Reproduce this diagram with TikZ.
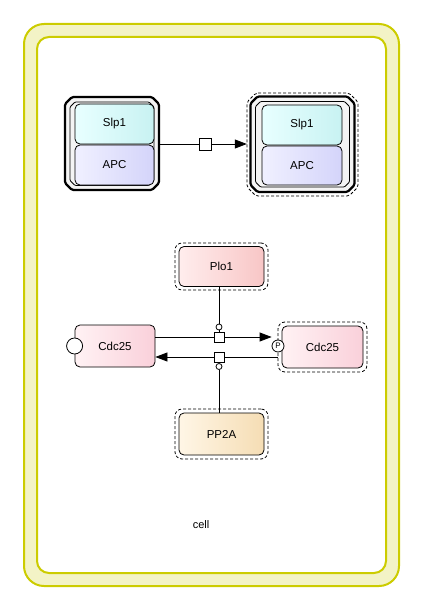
\documentclass[tikz,border=0pt]{standalone}
\usepackage{fontspec}
\setmainfont{Liberation Sans}
\usetikzlibrary{arrows.meta}

\definecolor{cellline}{HTML}{CCCC00}
\definecolor{cellband}{HTML}{F3F3C6}
\definecolor{cyanA}{HTML}{E8FFFF}
\definecolor{cyanB}{HTML}{C8F2F2}
\definecolor{lavA}{HTML}{F0F0FF}
\definecolor{lavB}{HTML}{D4D4FA}
\definecolor{pinkA}{HTML}{FFF2F4}
\definecolor{pinkB}{HTML}{FAD0DA}
\definecolor{roseA}{HTML}{FFEDED}
\definecolor{roseB}{HTML}{F8C6C6}
\definecolor{sandA}{HTML}{FFF6E6}
\definecolor{sandB}{HTML}{F5DDB4}
\definecolor{cplxfill}{HTML}{F4F4F4}

% octagon with cut corners: left, top, right, bottom, cut size
\newcommand\cutbox[5]{%
  ({#1+#5},#2) -- ({#3-#5},#2) -- (#3,{#2+#5}) -- (#3,{#4-#5}) --
  ({#3-#5},#4) -- ({#1+#5},#4) -- (#1,{#4-#5}) -- (#1,{#2+#5}) -- cycle}

\tikzset{
  entity/.style={draw=black, line width=0.8pt, rounded corners=5pt,
    inner sep=0pt, font=\fontsize{11.5}{13}\selectfont},
  clonebox/.style={draw=black, dashed, dash pattern=on 3pt off 2pt,
    line width=0.8pt, rounded corners=7pt, inner sep=0pt},
  cplxouter/.style={draw=black, line width=2.2pt, fill=cplxfill,
    rounded corners=1.5pt, line join=round},
  cplxinner/.style={draw=black, line width=0.8pt, rounded corners=1pt},
  cplxclone/.style={draw=black, dashed, dash pattern=on 3pt off 2pt,
    line width=0.8pt, rounded corners=2pt},
  anchorbox/.style={draw=none, inner sep=0pt},
  procbox/.style={draw=black, fill=white, line width=0.8pt,
    minimum size=10pt, inner sep=0pt},
  catdot/.style={circle, draw=black, fill=white, line width=0.8pt,
    minimum size=6pt, inner sep=0pt},
  conn/.style={draw=black, line width=0.8pt},
  prodtip/.style={-{Triangle[length=12pt,width=9pt]}},
  site/.style={circle, draw=black, fill=white, line width=0.8pt,
    inner sep=0pt, font=\fontsize{8}{9}\selectfont}
}

\begin{document}
\begin{tikzpicture}[x=1pt,y=-1pt]
\useasboundingbox (0,0) rectangle (432,599);

% compartment "cell"
\filldraw[fill=cellband, draw=cellline, line width=2pt, rounded corners=20pt]
  (24,24) rectangle (399,586);
\filldraw[fill=white, draw=cellline, line width=2pt, rounded corners=12pt]
  (37,37) rectangle (386,573);
\node[font=\fontsize{11}{12}\selectfont] (cellname) at (201,525) {cell};

% complex Slp1:APC (left)
\path[cplxouter] \cutbox{65}{97}{159}{190}{7};
\path[cplxinner] \cutbox{70}{102}{154}{185.5}{5};
\node[anchorbox, minimum width=94pt, minimum height=93pt] (cx1) at (112,143.5) {};
\node[entity, left color=cyanA, right color=cyanB, minimum width=79pt,
  minimum height=40pt] (slpA) at (114.5,124) {Slp1};
\node[entity, left color=lavA, right color=lavB, minimum width=79pt,
  minimum height=40pt] (apcA) at (114.5,165) {APC};

% complex Slp1:APC (right, clone marked)
\path[cplxclone] \cutbox{247}{93}{358}{196}{9};
\path[cplxouter] \cutbox{250.5}{96.5}{354.5}{192}{7};
\path[cplxinner] \cutbox{255.5}{101.5}{349.5}{187}{5};
\node[anchorbox, minimum width=111pt, minimum height=103pt] (cx2d) at (302.5,144.5) {};
\node[entity, left color=cyanA, right color=cyanB, minimum width=80pt,
  minimum height=40pt] (slpB) at (302,125) {Slp1};
\node[entity, left color=lavA, right color=lavB, minimum width=80pt,
  minimum height=39pt] (apcB) at (302,165.5) {APC};

% association process between the complexes
\node[procbox, minimum size=12pt] (pa) at (205,144) {};
\draw[conn] (cx1.east |- pa) -- (pa.west);
\draw[conn, prodtip] (pa.east) -- (cx2d.west |- pa);

% Plo1
\node[clonebox, minimum width=93pt, minimum height=47pt] (plo1d) at (221.5,266.5) {};
\node[entity, left color=roseA, right color=roseB, minimum width=85pt,
  minimum height=40pt] (plo1) at (221.5,266.5) {Plo1};

% PP2A
\node[clonebox, minimum width=93pt, minimum height=50pt] (pp2ad) at (221.5,434) {};
\node[entity, left color=sandA, right color=sandB, minimum width=85pt,
  minimum height=42pt] (pp2a) at (221.5,434) {PP2A};

% Cdc25 (left)
\node[entity, left color=pinkA, right color=pinkB, minimum width=80pt,
  minimum height=42pt] (cdcL) at (115,346) {Cdc25};
\node[site, minimum size=16pt] (cdcLs) at (cdcL.west) {};

% Cdc25 (right, clone marked)
\node[clonebox, minimum width=89pt, minimum height=50pt] (cdcRd) at (322.5,347) {};
\node[entity, left color=pinkA, right color=pinkB, minimum width=81pt,
  minimum height=42pt] (cdcR) at (322.5,347) {Cdc25};
\node[site, minimum size=12pt] (cdcRs) at (278,346) {P};

% phosphorylation / dephosphorylation processes
\node[procbox] (p1) at (219,337) {};
\node[procbox] (p2) at (219,357) {};
\node[catdot] (k1) at (219,327) {};
\node[catdot] (k2) at (219,366.5) {};

\draw[conn] (cdcL.east |- p1) -- (p1.west);
\draw[conn, prodtip] (p1.east) -- (cdcRs.west |- p1);
\draw[conn] (cdcRd.west |- p2) -- (p2.east);
\draw[conn, prodtip] (p2.west) -- (cdcL.east |- p2);

\draw[conn] (k1.north |- plo1.south) -- (k1.north);
\draw[conn] (k1.south) -- (p1.north);
\draw[conn] (p2.south) -- (k2.north);
\draw[conn] (k2.south) -- (k2.south |- pp2a.north);
\end{tikzpicture}
\end{document}
